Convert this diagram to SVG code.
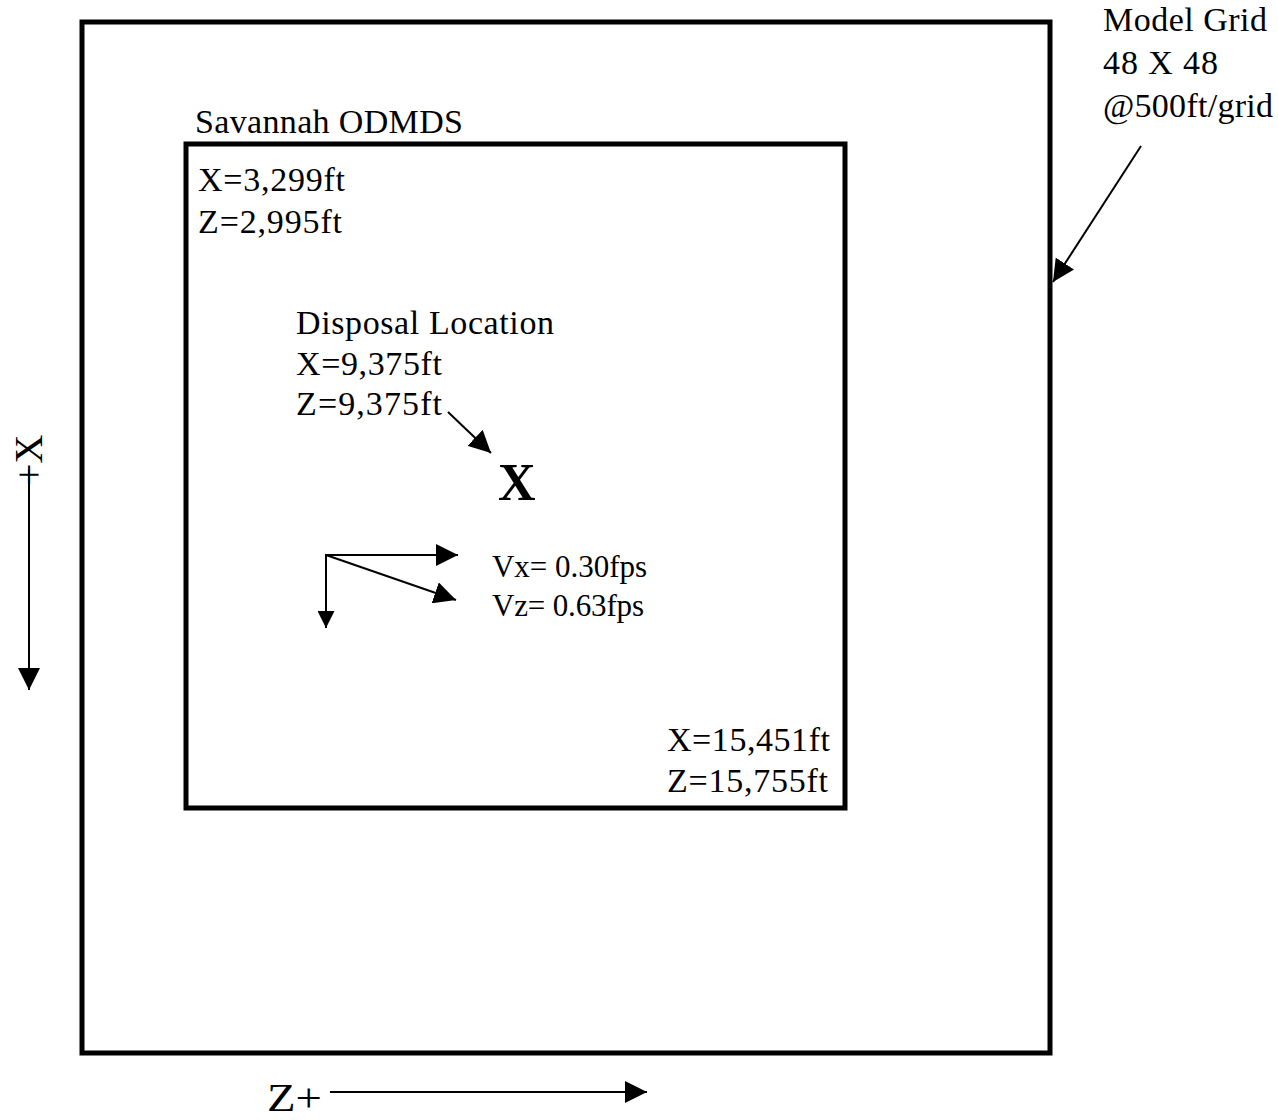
<svg xmlns="http://www.w3.org/2000/svg" width="1278" height="1120" viewBox="0 0 1278 1120">
<style>
text{font-family:"Liberation Serif","Times New Roman",serif;fill:#000;font-size:34px}
.box{fill:none;stroke:#000;stroke-width:5}
.ln{stroke:#000;stroke-width:2;fill:none}
.v{font-size:31px}
</style>
<defs>
<marker id="ah" viewBox="0 0 10 10" refX="10" refY="5" markerWidth="17" markerHeight="17" markerUnits="userSpaceOnUse" orient="auto"><path d="M0,0L10,5L0,10Z" fill="#000"/></marker>
<marker id="ahL" viewBox="0 0 10 10" refX="10" refY="5" markerWidth="22" markerHeight="22" markerUnits="userSpaceOnUse" orient="auto"><path d="M0,0L10,5L0,10Z" fill="#000"/></marker>
</defs>
<rect width="1278" height="1120" fill="#fff"/>
<g id="model-grid">
<rect class="box" x="82" y="22" width="968" height="1031"/>
<text x="1103" y="31" textLength="164" lengthAdjust="spacing">Model Grid</text>
<text x="1103" y="74" textLength="115" lengthAdjust="spacing">48 X 48</text>
<text x="1103" y="117" textLength="170" lengthAdjust="spacing">@500ft/grid</text>
</g>
<g id="odmds">
<rect class="box" x="186" y="144" width="659" height="664"/>
<text x="195" y="133" textLength="268" lengthAdjust="spacing">Savannah ODMDS</text>
<text x="198" y="191" textLength="147" lengthAdjust="spacing">X=3,299ft</text>
<text x="198" y="233" textLength="144" lengthAdjust="spacing">Z=2,995ft</text>
<text x="667" y="751" textLength="163" lengthAdjust="spacing">X=15,451ft</text>
<text x="667" y="792" textLength="161" lengthAdjust="spacing">Z=15,755ft</text>
</g>
<g id="disposal">
<text x="296" y="334" textLength="258" lengthAdjust="spacing">Disposal Location</text>
<text x="296" y="375" textLength="146" lengthAdjust="spacing">X=9,375ft</text>
<text x="296" y="415" textLength="146" lengthAdjust="spacing">Z=9,375ft</text>
<text x="498" y="500" style="font-size:52px;font-weight:bold">X</text>
</g>
<g id="velocity">
<text class="v" x="492" y="577" textLength="155" lengthAdjust="spacing">Vx= 0.30fps</text>
<text class="v" x="492" y="616" textLength="152" lengthAdjust="spacing">Vz= 0.63fps</text>
</g>
<g id="axes">
<text transform="translate(42,486) rotate(-90)" style="font-size:40px">+X</text>
<text x="267" y="1111" style="font-size:40px" textLength="55" lengthAdjust="spacingAndGlyphs">Z+</text>
</g>
<g id="connectors">
<line class="ln" x1="1141" y1="146" x2="1053" y2="282" marker-end="url(#ahL)"/>
<line class="ln" x1="448" y1="412" x2="491" y2="453" marker-end="url(#ahL)"/>
<line class="ln" x1="326" y1="555" x2="458" y2="555" marker-end="url(#ahL)"/>
<line class="ln" x1="326" y1="555" x2="456" y2="600" marker-end="url(#ahL)"/>
<line class="ln" x1="326" y1="554" x2="326" y2="628" marker-end="url(#ah)"/>
<line class="ln" x1="29" y1="470" x2="29" y2="690" marker-end="url(#ahL)"/>
<line class="ln" x1="330" y1="1092" x2="647" y2="1092" marker-end="url(#ahL)"/>
</g>
</svg>
